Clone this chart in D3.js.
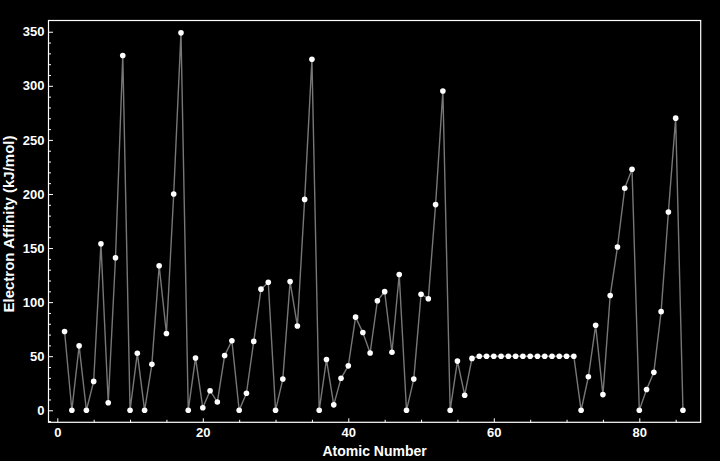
<!DOCTYPE html>
<html lang="en">
	<head>
		<meta charset="utf-8">
		<title>Electron Affinity</title>
		<script type="text/javascript" src="https://cdn.jsdelivr.net/npm/d3@7"></script>
		<style type="text/css">
			html, body {
				margin: 0;
				padding: 0;
				background: #000;
			}
			.axis text {
				font-family: "Liberation Sans", Arial, sans-serif;
				font-size: 13px;
				font-weight: bold;
				fill: #fff;
			}
			.axis line {
				stroke: #fff;
				stroke-width: 1;
			}
			.label {
				font-family: "Liberation Sans", Arial, sans-serif;
				font-weight: bold;
				fill: #fff;
			}
		</style>
	</head>
	<body>
		<script type="text/javascript">

			//SVG size and plot frame
			var w = 720;
			var h = 461;
			var margin = {top: 20.5, right: 19.3, bottom: 38.7, left: 48.5};

			//Electron affinity (kJ/mol) for elements 1..86
			var affinity = [
				72.8, 0, 59.6, 0, 26.7, 153.9, 7, 141, 328, 0,
				52.8, 0, 42.5, 133.6, 71, 200, 349, 0, 48.4, 2.37,
				18.1, 7.6, 50.6, 64.3, 0, 15.7, 63.7, 112, 118.4, 0,
				28.9, 119, 78, 195, 324.6, 0, 46.9, 5.03, 29.6, 41.1,
				86.1, 71.9, 53, 101.3, 109.7, 53.7, 125.6, 0, 28.9, 107.3,
				103.2, 190.2, 295.2, 0, 45.5, 13.95, 48, 50, 50, 50,
				50, 50, 50, 50, 50, 50, 50, 50, 50, 50,
				50, 0, 31, 78.6, 14.5, 106.1, 151, 205.3, 222.8, 0,
				19.2, 35.1, 91.2, 183.3, 270.1, 0
			];
			var atomicNumber = affinity.map(function(d, i) { return i + 1; });
			var dataset = atomicNumber.map(function(z, i) { return [z, affinity[i]]; });

			//Tick values
			var xMajorTicks = [0, 20, 40, 60, 80];
			var xMinorTicks = [5, 10, 15, 25, 30, 35, 45, 50, 55, 65, 70, 75, 85];
			var yMajorTicks = [0, 50, 100, 150, 200, 250, 300, 350];
			var yMinorTicks = [-10, 10, 20, 30, 40, 60, 70, 80, 90, 110, 120, 130, 140, 160, 170, 180, 190,
				210, 220, 230, 240, 260, 270, 280, 290, 310, 320, 330, 340];

			var xScale = d3.scaleLinear()
								.domain([-1.21, 88.44])
								.range([margin.left, w - margin.right]);

			var yScale = d3.scaleLinear()
								.domain([-11.1, 360.4])
								.range([h - margin.bottom, margin.top]);

			var svg = d3.select("body")
						.append("svg")
						.attr("width", w)
						.attr("height", h);

			svg.append("rect")
				.attr("width", w)
				.attr("height", h)
				.attr("fill", "#000");

			// axes (ticks point inward)
			var xAxis = d3.axisBottom(xScale)
							.tickValues(xMajorTicks)
							.tickSize(-4)
							.tickPadding(5);
			var xMinor = d3.axisBottom(xScale)
							.tickValues(xMinorTicks)
							.tickSize(-2.5)
							.tickFormat("");
			var yAxis = d3.axisLeft(yScale)
							.tickValues(yMajorTicks)
							.tickSize(-4.5)
							.tickPadding(4);
			var yMinor = d3.axisLeft(yScale)
							.tickValues(yMinorTicks)
							.tickSize(-2.5)
							.tickFormat("");

			var bottomY = h - margin.bottom;
			[xAxis, xMinor].forEach(function(ax) {
				svg.append("g")
					.attr("class", "x axis")
					.attr("transform", "translate(0," + bottomY + ")")
					.call(ax)
					.call(function(g) { g.select(".domain").remove(); });
			});
			[yAxis, yMinor].forEach(function(ax) {
				svg.append("g")
					.attr("class", "y axis")
					.attr("transform", "translate(" + margin.left + ",0)")
					.call(ax)
					.call(function(g) { g.select(".domain").remove(); });
			});

			// frame
			svg.append("rect")
				.attr("x", margin.left)
				.attr("y", margin.top)
				.attr("width", w - margin.right - margin.left)
				.attr("height", h - margin.bottom - margin.top)
				.attr("fill", "none")
				.attr("stroke", "#fff")
				.attr("stroke-width", 1.2);

			// line
			var line = d3.line()
						.x(function(d) { return xScale(d[0]); })
						.y(function(d) { return yScale(d[1]); });

			svg.append("path")
				.datum(dataset)
				.attr("d", line)
				.attr("fill", "none")
				.attr("stroke", "#777")
				.attr("stroke-width", 1.4);

			// points
			svg.append("g")
				.selectAll("circle")
				.data(dataset)
				.enter()
				.append("circle")
				.attr("cx", function(d) { return xScale(d[0]); })
				.attr("cy", function(d) { return yScale(d[1]); })
				.attr("r", 2.8)
				.attr("fill", "#fff");

			// axis labels
			svg.append("text")
				.attr("class", "label")
				.attr("x", (margin.left + w - margin.right) / 2)
				.attr("y", 456)
				.attr("text-anchor", "middle")
				.style("font-size", "14px")
				.text("Atomic Number");

			svg.append("text")
				.attr("class", "label")
				.attr("transform", "translate(13.5,224) rotate(-90)")
				.attr("text-anchor", "middle")
				.style("font-size", "15px")
				.text("Electron Affinity (kJ/mol)");

		</script>
	</body>
</html>
